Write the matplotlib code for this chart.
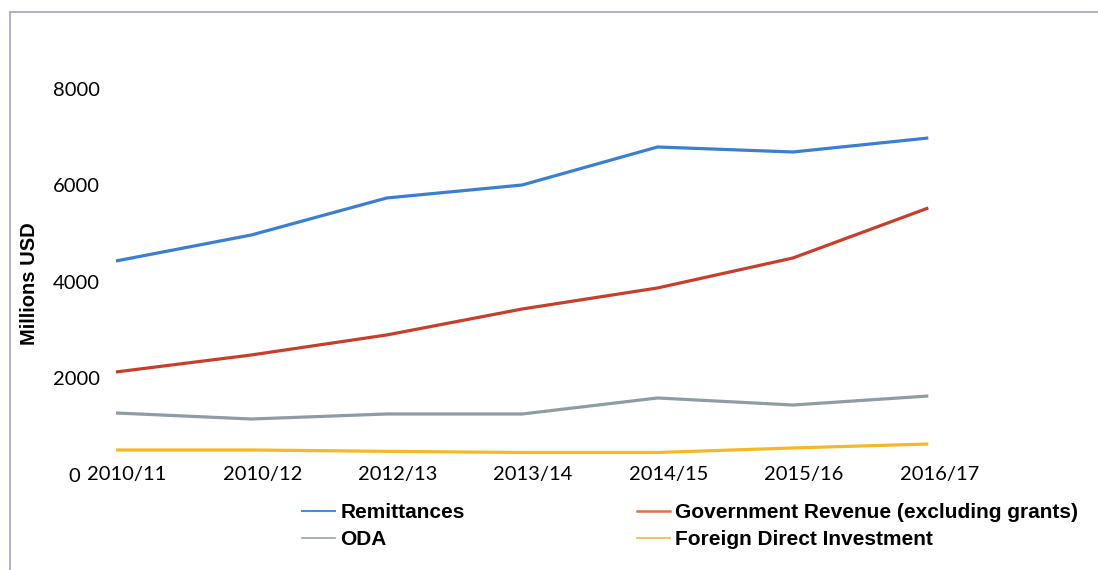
import numpy as np
import matplotlib
matplotlib.use('Agg')
from matplotlib import pyplot as plt
from matplotlib.lines import Line2D
from matplotlib.transforms import ScaledTranslation

years = ['2010/11', '2010/12', '2012/13', '2013/14', '2014/15', '2015/16', '2016/17']
remittances = [4435, 4974, 5741, 6010, 6798, 6694, 6984]
gov_revenue = [2135, 2487, 2902, 3440, 3876, 4497, 5534]
oda = [1285, 1160, 1264, 1264, 1596, 1450, 1637]
fdi = [518, 518, 490, 466, 466, 560, 642]

fig = plt.figure(figsize=(10.98, 5.70), dpi=100)
ax = fig.add_axes([0.0956, 0.1667, 0.8115, 0.6772])

x = np.arange(len(years))
ax.plot(x, remittances, color='#3a7fd2', lw=2.3, solid_capstyle='butt')
ax.plot(x, gov_revenue, color='#c63f2b', lw=2.3, solid_capstyle='butt')
ax.plot(x, oda, color='#8e9ca4', lw=2.3, solid_capstyle='butt')
ax.plot(x, fdi, color='#f6b824', lw=2.3, solid_capstyle='butt')

ax.set_xlim(-0.0813, 6.5)
ax.set_ylim(0, 8000)
for s in ax.spines.values():
    s.set_visible(False)

ax.tick_params(axis='both', length=0)
ax.tick_params(axis='y', pad=3.6)
ax.tick_params(axis='x', pad=0)
ax.set_yticks([0, 2000, 4000, 6000, 8000])
ax.set_yticklabels(['0', '2000', '4000', '6000', '8000'], fontfamily='Lato', fontsize=14.5)
ax.set_xticks(x)
ax.set_xticklabels(years, fontfamily='Lato', fontsize=14.5, va='center')

# shift x labels a little right, and the "0" left so it clears 2010/11
shift = ScaledTranslation(0.11, 0, fig.dpi_scale_trans)
for lab in ax.get_xticklabels():
    lab.set_transform(lab.get_transform() + shift)
zero = ax.get_yticklabels()[0]
zero.set_transform(zero.get_transform() + ScaledTranslation(-0.20, 0, fig.dpi_scale_trans))

ax.set_ylabel('Millions USD', fontfamily='Liberation Sans', fontweight='bold', fontsize=14.5)
ax.yaxis.set_label_coords(-0.074, 0.495)

line_remit = Line2D([], [], color='#3d8fe0', lw=1.5)
line_gov = Line2D([], [], color='#e0704c', lw=1.8)
line_oda = Line2D([], [], color='#9aa4ae', lw=1.2)
line_fdi = Line2D([], [], color='#f7c266', lw=1.5)
# legend fills column by column, so list them column-wise
fig.legend([line_remit, line_oda, line_gov, line_fdi],
           ['Remittances', 'ODA', 'Government Revenue (excluding grants)', 'Foreign Direct Investment'],
           ncol=2, loc='center left', bbox_to_anchor=(0.275, 0.077),
           frameon=False, borderpad=0, borderaxespad=0, handlelength=1.6,
           handletextpad=0.25, columnspacing=8.25, labelspacing=0.4,
           prop={'family': 'Liberation Sans', 'weight': 'bold', 'size': 15})

# thin frame on the top and left edges
frame_col = '#a9a9c9'
fig.add_artist(Line2D([10 / 1098, 1.0], [1 - 12 / 570, 1 - 12 / 570], color=frame_col, lw=1.3))
fig.add_artist(Line2D([10 / 1098, 10 / 1098], [0, 1 - 12 / 570], color=frame_col, lw=1.3))

fig.savefig('out.png', dpi=100)
